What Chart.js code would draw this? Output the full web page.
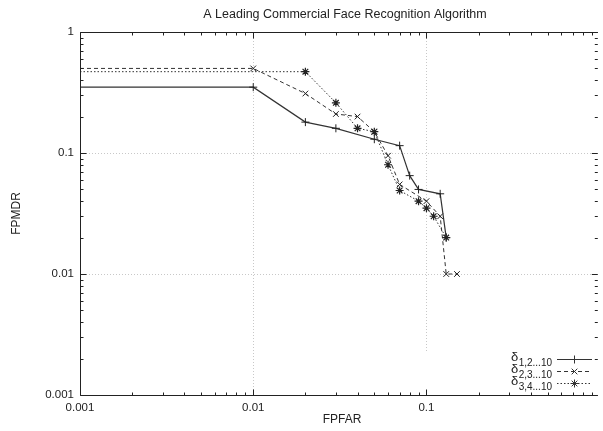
<!DOCTYPE html>
<html>
<head>
<meta charset="utf-8">
<script src="https://cdn.jsdelivr.net/npm/chart.js@4"></script>
<style>
  body { margin: 0; background: #fff; }
  #wrap { width: 603px; height: 431px; }
</style>
</head>
<body>
<div id="wrap"><canvas id="myChart"></canvas></div>
<script>
// FPFAR / FPMDR pairs for each delta setting
var fpfar1 = [0.001, 0.01, 0.02, 0.03, 0.05, 0.07, 0.08, 0.09, 0.12, 0.13];
var fpmdr1 = [0.35, 0.35, 0.18, 0.16, 0.13, 0.115, 0.065, 0.05, 0.046, 0.02];

var fpfar2 = [0.001, 0.01, 0.02, 0.03, 0.04, 0.05, 0.06, 0.07, 0.1, 0.12, 0.13, 0.15];
var fpmdr2 = [0.5, 0.5, 0.31, 0.21, 0.2, 0.15, 0.095, 0.055, 0.04, 0.03, 0.01, 0.01];

var fpfar3 = [0.001, 0.02, 0.03, 0.04, 0.05, 0.06, 0.07, 0.09, 0.1, 0.11, 0.13];
var fpmdr3 = [0.47, 0.47, 0.26, 0.16, 0.15, 0.08, 0.049, 0.04, 0.035, 0.03, 0.02];

var keyNames = ['1,2...10', '2,3...10', '3,4...10'];

var xTicks = [0.001, 0.01, 0.1];
var xTickLabels = ['0.001', '0.01', '0.1'];
var yTicks = [1, 0.1, 0.01, 0.001];
var yTickLabels = ['1', '0.1', '0.01', '0.001'];

var FAMILY = '"Liberation Sans", Arial, sans-serif';
var INK = '#222';

function pts(xs, ys) {
  return xs.map(function (x, i) { return { x: x, y: ys[i] }; });
}
// no marker on the first point (left edge of the plot)
function radius(ctx) { return ctx.dataIndex === 0 ? 0 : 4; }

var keyTop = 353;

// gnuplot-style frame, inward ticks, dotted grid, labels and key
var frame = {
  id: 'frame',
  beforeDatasetsDraw: function (chart) {
    var c = chart.ctx, a = chart.chartArea;
    var xs = chart.scales.x, ys = chart.scales.y;
    c.save();
    c.strokeStyle = '#c8c8c8';
    c.lineWidth = 1;
    c.setLineDash([1, 2]);
    [0.01, 0.1].forEach(function (v) {
      var px = Math.round(xs.getPixelForValue(v)) + 0.5;
      c.beginPath();
      c.moveTo(px, a.top);
      c.lineTo(px, v >= 0.1 ? keyTop : a.bottom);
      c.stroke();
    });
    [0.1, 0.01].forEach(function (v) {
      var py = Math.round(ys.getPixelForValue(v)) + 0.5;
      c.beginPath();
      c.moveTo(a.left, py);
      c.lineTo(a.right, py);
      c.stroke();
    });
    c.restore();
  },
  afterDraw: function (chart) {
    var c = chart.ctx, a = chart.chartArea;
    var xs = chart.scales.x, ys = chart.scales.y;
    c.save();
    c.strokeStyle = INK;
    c.lineWidth = 1;
    c.setLineDash([]);
    var L = Math.round(a.left) + 0.5, B = Math.round(a.bottom) + 0.5, T = Math.round(a.top) + 0.5;
    c.beginPath();
    c.moveTo(L, T); c.lineTo(a.right, T);
    c.moveTo(L, T); c.lineTo(L, B); c.lineTo(a.right, B);
    c.stroke();

    // ticks on all sides, pointing inward
    c.beginPath();
    for (var d = -3; d <= 0; d++) {
      for (var m = 1; m <= 9; m++) {
        var v = m * Math.pow(10, d);
        var len = m === 1 ? 6 : 3;
        if (v <= xs.max) {
          var px = Math.round(xs.getPixelForValue(v)) + 0.5;
          c.moveTo(px, B); c.lineTo(px, B - len);
          c.moveTo(px, T); c.lineTo(px, T + len);
        }
        if (v <= 1) {
          var py = Math.round(ys.getPixelForValue(v)) + 0.5;
          c.moveTo(L, py); c.lineTo(L + len, py);
          c.moveTo(a.right, py); c.lineTo(a.right - len, py);
        }
      }
    }
    c.stroke();

    // tick labels
    c.fillStyle = INK;
    c.font = '11.5px ' + FAMILY;
    c.textAlign = 'center';
    c.textBaseline = 'middle';
    xTicks.forEach(function (v, i) {
      c.fillText(xTickLabels[i], xs.getPixelForValue(v), a.bottom + 13);
    });
    c.textAlign = 'right';
    yTicks.forEach(function (v, i) {
      c.fillText(yTickLabels[i], a.left - 6, ys.getPixelForValue(v));
    });

    // title and axis names
    c.textAlign = 'center';
    c.font = '12.5px ' + FAMILY;
    c.fillText('A Leading Commercial Face Recognition Algorithm', 345, 15);
    c.font = '12px ' + FAMILY;
    c.fillText('FPFAR', 342, 420);
    c.save();
    c.translate(17, (a.top + a.bottom) / 2);
    c.rotate(-Math.PI / 2);
    c.fillText('FPMDR', 0, 0);
    c.restore();

    // key
    chart.data.datasets.forEach(function (ds, i) {
      var y = 359 + i * 12;
      var sub = keyNames[i];
      c.font = '10px ' + FAMILY;
      var sw = c.measureText(sub).width;
      c.textAlign = 'right';
      c.fillText(sub, 552, y + 4);
      c.font = '13px ' + FAMILY;
      c.fillText('\u03b4', 552 - sw - 0.5, y - 2);
      c.strokeStyle = ds.borderColor;
      c.lineWidth = ds.borderWidth;
      c.setLineDash(ds.borderDash);
      c.beginPath();
      c.moveTo(557, y + 0.5); c.lineTo(592, y + 0.5);
      c.stroke();
      c.setLineDash([]);
      c.lineWidth = 1;
      Chart.helpers.drawPoint(c, { pointStyle: ds.pointStyle, radius: 4, rotation: 0, borderWidth: 1 }, 574.5, y + 0.5);
    });
    c.restore();
  }
};

var ctx = document.getElementById('myChart').getContext('2d');
var myChart = new Chart(ctx, {
  type: 'line',
  data: {
    datasets: [{
      label: keyNames[0],
      data: pts(fpfar1, fpmdr1),
      borderColor: '#333',
      borderWidth: 1.2,
      borderDash: [],
      pointStyle: 'cross',
      pointRadius: radius,
      pointBorderColor: '#222',
      pointBorderWidth: 1,
      backgroundColor: 'transparent'
    }, {
      label: keyNames[1],
      data: pts(fpfar2, fpmdr2),
      borderColor: '#333',
      borderWidth: 1,
      borderDash: [4, 3],
      pointStyle: 'crossRot',
      pointRadius: radius,
      pointBorderColor: '#222',
      pointBorderWidth: 1,
      backgroundColor: 'transparent'
    }, {
      label: keyNames[2],
      data: pts(fpfar3, fpmdr3),
      borderColor: '#333',
      borderWidth: 1,
      borderDash: [1.5, 2],
      pointStyle: 'star',
      pointRadius: radius,
      pointBorderColor: '#222',
      pointBorderWidth: 1.2,
      backgroundColor: 'transparent'
    }]
  },
  options: {
    responsive: true,
    maintainAspectRatio: false,
    animation: false,
    layout: { padding: { left: 80, top: 32, right: 0, bottom: 36 } },
    plugins: {
      legend: { display: false },
      tooltip: { enabled: false }
    },
    scales: {
      x: { type: 'logarithmic', min: 0.001, max: 0.975, display: false },
      y: { type: 'logarithmic', min: 0.001, max: 1, display: false }
    }
  },
  plugins: [frame]
});
</script>
</body>
</html>
